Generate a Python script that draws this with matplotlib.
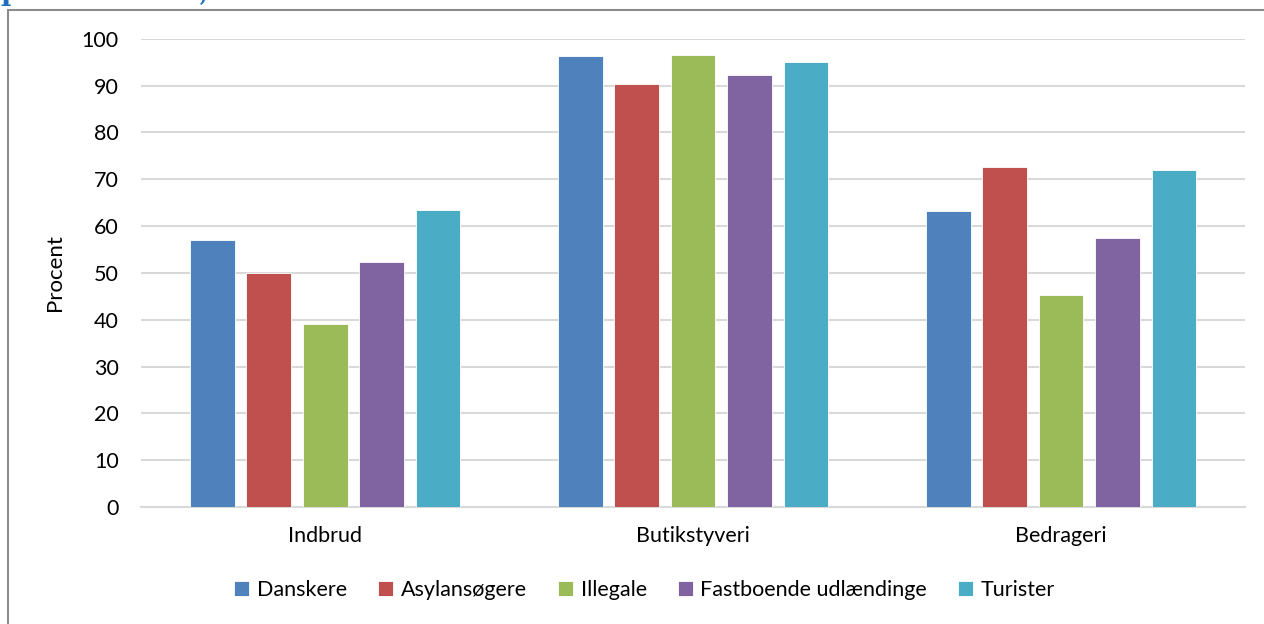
import matplotlib
matplotlib.use("Agg")
import matplotlib.pyplot as plt
import numpy as np
from matplotlib.patches import Rectangle

plt.rcParams["font.family"] = ["Lato", "DejaVu Sans"]

categories = ["Indbrud", "Butikstyveri", "Bedrageri"]
series = ["Danskere", "Asylansøgere", "Illegale", "Fastboende udlændinge", "Turister"]
danskere = [57.0, 96.2, 63.2]
asylansoegere = [50.0, 90.4, 72.5]
illegale = [39.1, 96.6, 45.2]
fastboende = [52.3, 92.3, 57.5]
turister = [63.4, 95.1, 72.0]
yticks = list(range(0, 101, 10))

values = [danskere, asylansoegere, illegale, fastboende, turister]
colors = ["#4F81BD", "#C0504D", "#9BBB59", "#8064A2", "#4BACC6"]

fig = plt.figure(figsize=(12.64, 6.24), dpi=100)
ax = fig.add_axes([0.1116, 0.1875, 0.8734, 0.7505])

# outer chart frame
fig.patches.append(Rectangle((8 / 1264, -0.1), 1.2, 0.1 + (624 - 10) / 624,
                             transform=fig.transFigure, fill=False,
                             edgecolor="#8c8c8c", linewidth=1.5))

x = np.arange(len(categories))
step = 0.1535
width = 0.122
for i, (name, vals, c) in enumerate(zip(series, values, colors)):
    ax.bar(x + (i - 2) * step, vals, width, color=c, label=name,
           edgecolor="white", linewidth=0.6, zorder=3)

ax.set_xlim(-0.5, 2.5)
ax.set_ylim(0, 100)
ax.set_yticks(yticks)
ax.set_xticks(x)
ax.set_xticklabels(categories)
ax.tick_params(axis="both", length=0, labelsize=15.5)
ax.tick_params(axis="y", pad=16)
ax.tick_params(axis="x", pad=14)
ax.yaxis.grid(True, color="#d9d9d9", linewidth=1.5, zorder=0)
ax.set_axisbelow(True)
for s in ["top", "right", "left"]:
    ax.spines[s].set_visible(False)
ax.spines["bottom"].set_color("#d9d9d9")
ax.spines["bottom"].set_linewidth(1.5)
ax.set_ylabel("Procent", fontsize=16, labelpad=12)

fig.legend(loc="center", bbox_to_anchor=(0.51, 0.054), ncol=5, frameon=False,
           fontsize=15.5, handlelength=0.7, handleheight=0.7, handletextpad=0.35,
           columnspacing=1.45)

# cut-off heading above the chart
fig.text(0.0, 1.0, "p", color="#1f6fc0", fontsize=20, fontweight="bold",
         family="DejaVu Serif", va="baseline")
fig.text(199 / 1264, 1.0, ",", color="#1f6fc0", fontsize=20,
         family="DejaVu Serif", va="baseline")

fig.savefig("out.png", dpi=100)
